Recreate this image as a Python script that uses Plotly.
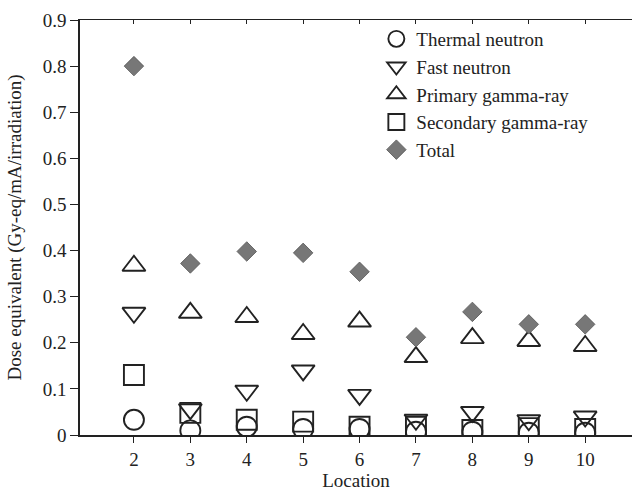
import plotly.graph_objects as go

locations = [2, 3, 4, 5, 6, 7, 8, 9, 10]
thermal = [0.033, 0.010, 0.018, 0.013, 0.013, 0.007, 0.007, 0.005, 0.005]
fast = [0.265, 0.056, 0.096, 0.140, 0.087, 0.033, 0.050, 0.032, 0.040]
primary = [0.367, 0.265, 0.256, 0.219, 0.246, 0.169, 0.210, 0.204, 0.193]
secondary = [0.130, 0.048, 0.033, 0.029, 0.018, 0.018, 0.011, 0.015, 0.013]
total = [0.800, 0.372, 0.398, 0.395, 0.354, 0.212, 0.267, 0.240, 0.240]

y_ticks = [0, 0.1, 0.2, 0.3, 0.4, 0.5, 0.6, 0.7, 0.8, 0.9]
y_labels = ["0", "0.1", "0.2", "0.3", "0.4", "0.5", "0.6", "0.7", "0.8", "0.9"]

FONT = "Liberation Serif"
INK = "#222222"
FS = 19

series = [
    ("Thermal neutron", thermal, "circle-open", 20),
    ("Fast neutron", fast, "triangle-down-open", 20),
    ("Primary gamma-ray", primary, "triangle-up-open", 20),
    ("Secondary gamma-ray", secondary, "square-open", 20),
]

fig = go.Figure()
for name, vals, sym, size in series:
    fig.add_trace(go.Scatter(
        x=locations, y=vals, name=name, mode="markers",
        marker=dict(symbol=sym, size=size, color=INK, line=dict(width=1.9, color=INK)),
    ))
fig.add_trace(go.Scatter(
    x=locations, y=total, name="Total", mode="markers",
    marker=dict(symbol="diamond", size=15, color="#777777", line=dict(width=0.8, color="#555555")),
))
# invisible helper so the top (mirrored, inward-tick) axis is drawn
fig.add_trace(go.Scatter(
    x=locations, y=total, xaxis="x2", mode="markers", showlegend=False,
    hoverinfo="skip", marker=dict(opacity=0),
))

fig.update_layout(
    width=638, height=493,
    margin=dict(l=80, r=6, t=20, b=58),
    paper_bgcolor="white", plot_bgcolor="white",
    font=dict(family=FONT, size=FS, color=INK),
    showlegend=True,
    legend=dict(x=0.93, y=1.0, xanchor="right", yanchor="top",
                bgcolor="rgba(0,0,0,0)", font=dict(family=FONT, size=FS, color=INK),
                tracegroupgap=0),
    xaxis=dict(range=[1.044, 10.83], tickvals=locations, ticktext=[str(v) for v in locations],
               showgrid=False, zeroline=False, showline=True, linecolor=INK, linewidth=1.6,
               ticks="outside", ticklen=6, tickcolor=INK, tickwidth=1,
               title=dict(text="Location", font=dict(family=FONT, size=FS), standoff=2),
               tickfont=dict(family=FONT, size=FS)),
    xaxis2=dict(range=[1.044, 10.83], overlaying="x", side="top", tickvals=locations,
                showticklabels=False, showgrid=False, zeroline=False, showline=True,
                linecolor=INK, linewidth=1.2, ticks="inside", ticklen=4, tickcolor=INK),
    yaxis=dict(range=[0, 0.9], tickvals=y_ticks, ticktext=y_labels,
               showgrid=False, zeroline=False, showline=True, linecolor=INK, linewidth=1.6,
               ticks="outside", ticklen=8, tickcolor=INK, tickwidth=1,
               title=dict(text="Dose equivalent (Gy-eq/mA/irradiation)", font=dict(family=FONT, size=FS), standoff=16),
               tickfont=dict(family=FONT, size=FS)),
)

fig.write_html("out.html")
